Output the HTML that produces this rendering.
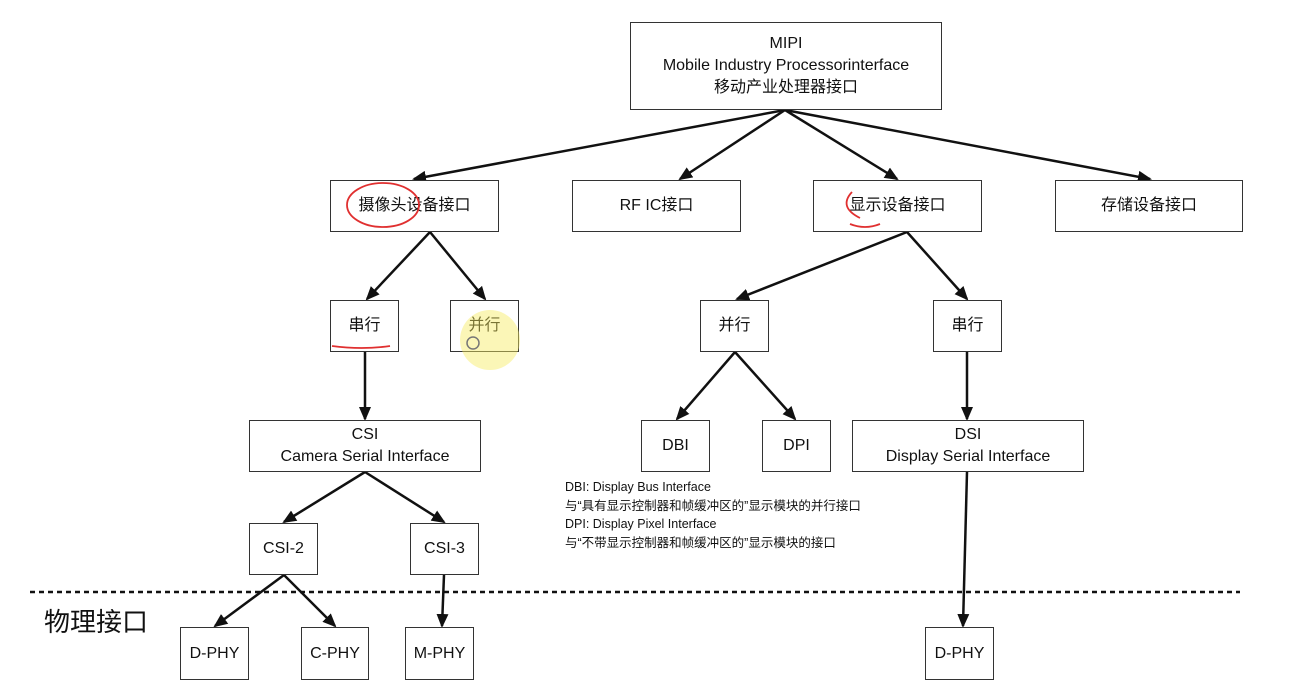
<!DOCTYPE html>
<html><head><meta charset="utf-8"><style>
body{margin:0;background:#fff;}
.c{position:relative;width:1303px;height:692px;overflow:hidden;font-family:"Liberation Sans","Noto Sans CJK SC",sans-serif;}
.b{position:absolute;border:1.5px solid #333;background:#fff;display:flex;align-items:center;justify-content:center;text-align:center;font-size:16px;color:#111;box-sizing:border-box;line-height:22px;}
svg{position:absolute;left:0;top:0;}
.n{position:absolute;left:565px;top:478px;font-size:12.5px;line-height:18.5px;color:#111;white-space:nowrap;}
</style></head><body><div class="c">
<svg width="1303" height="692">
<defs><marker id="a" markerWidth="14" markerHeight="14" refX="12" refY="7" orient="auto" markerUnits="userSpaceOnUse"><path d="M0,1 L14,7 L0,13 z" fill="#111"/></marker></defs>
<g stroke="#111" stroke-width="2.5" marker-end="url(#a)" fill="none">
<line x1="785" y1="110" x2="414" y2="179"/>
<line x1="785" y1="110" x2="680" y2="179"/>
<line x1="785" y1="110" x2="897" y2="179"/>
<line x1="785" y1="110" x2="1150" y2="179"/>
<line x1="430" y1="232" x2="367" y2="299"/>
<line x1="430" y1="232" x2="485" y2="299"/>
<line x1="365" y1="352" x2="365" y2="419"/>
<line x1="365" y1="472" x2="284" y2="522"/>
<line x1="365" y1="472" x2="444" y2="522"/>
<line x1="284" y1="575" x2="215" y2="626"/>
<line x1="284" y1="575" x2="335" y2="626"/>
<line x1="444" y1="575" x2="442" y2="626"/>
<line x1="907" y1="232" x2="737" y2="299"/>
<line x1="907" y1="232" x2="967" y2="299"/>
<line x1="735" y1="352" x2="677" y2="419"/>
<line x1="735" y1="352" x2="795" y2="419"/>
<line x1="967" y1="352" x2="967" y2="419"/>
<line x1="967" y1="472" x2="963" y2="626"/>
</g>
<line x1="30" y1="592" x2="1240" y2="592" stroke="#111" stroke-width="2.5" stroke-dasharray="5,4"/>
</svg>
<div class="b" style="left:630px;top:22px;width:312px;height:88px;">MIPI<br>Mobile Industry Processorinterface<br>移动产业处理器接口</div>
<div class="b" style="left:330px;top:180px;width:169px;height:52px;">摄像头设备接口</div>
<div class="b" style="left:572px;top:180px;width:169px;height:52px;">RF IC接口</div>
<div class="b" style="left:813px;top:180px;width:169px;height:52px;">显示设备接口</div>
<div class="b" style="left:1055px;top:180px;width:188px;height:52px;">存储设备接口</div>
<div class="b" style="left:330px;top:300px;width:69px;height:52px;">串行</div>
<div class="b" style="left:450px;top:300px;width:69px;height:52px;">并行</div>
<div class="b" style="left:700px;top:300px;width:69px;height:52px;">并行</div>
<div class="b" style="left:933px;top:300px;width:69px;height:52px;">串行</div>
<div class="b" style="left:249px;top:420px;width:232px;height:52px;">CSI<br>Camera Serial Interface</div>
<div class="b" style="left:641px;top:420px;width:69px;height:52px;">DBI</div>
<div class="b" style="left:762px;top:420px;width:69px;height:52px;">DPI</div>
<div class="b" style="left:852px;top:420px;width:232px;height:52px;">DSI<br>Display Serial Interface</div>
<div class="b" style="left:249px;top:523px;width:69px;height:52px;">CSI-2</div>
<div class="b" style="left:410px;top:523px;width:69px;height:52px;">CSI-3</div>
<div class="b" style="left:180px;top:627px;width:69px;height:53px;">D-PHY</div>
<div class="b" style="left:301px;top:627px;width:68px;height:53px;">C-PHY</div>
<div class="b" style="left:405px;top:627px;width:69px;height:53px;">M-PHY</div>
<div class="b" style="left:925px;top:627px;width:69px;height:53px;">D-PHY</div>
<svg width="1303" height="692">
<circle cx="490" cy="340" r="30" fill="#f7ec60" opacity="0.45"/>
<circle cx="473" cy="343" r="6" fill="none" stroke="#777" stroke-width="1.5"/>
<g stroke="#e03030" stroke-width="1.8" fill="none">
<ellipse cx="383" cy="205" rx="36" ry="22"/>
<path d="M852 192 q-14 15 8 26 M850 224 q15 6 30 0"/>
<path d="M332 346 q30 4 58 0"/>
</g>
</svg>
<div class="n">DBI: Display Bus Interface<br>与“具有显示控制器和帧缓冲区的”显示模块的并行接口<br>DPI: Display Pixel Interface<br>与“不带显示控制器和帧缓冲区的”显示模块的接口</div>
<div style="position:absolute;left:44px;top:602px;font-size:26px;color:#111;">物理接口</div>
</div></body></html>
